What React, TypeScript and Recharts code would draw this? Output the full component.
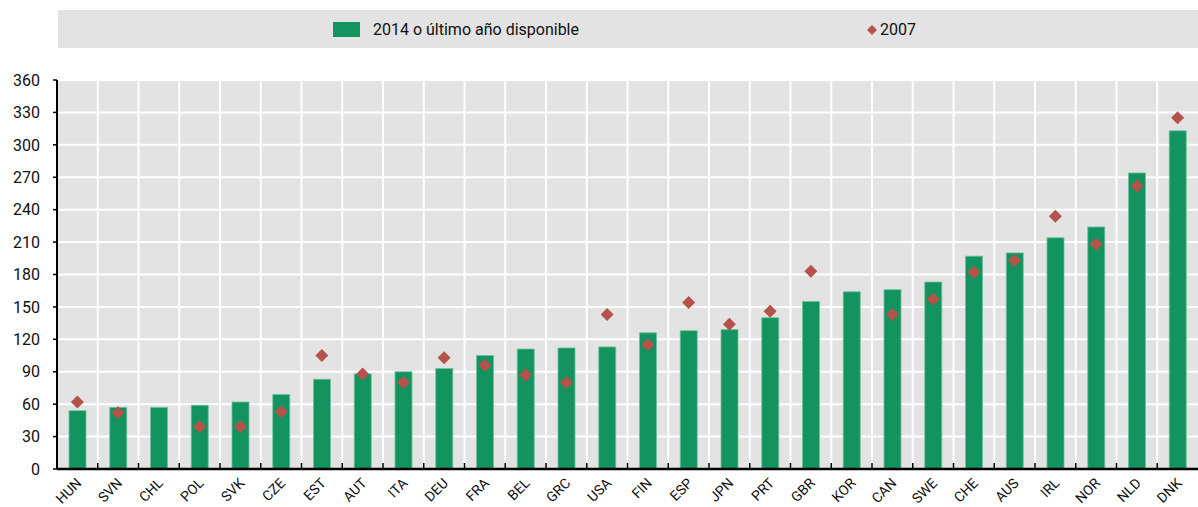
import { ComposedChart, Bar, Scatter, XAxis, YAxis, CartesianGrid } from 'recharts'

const COUNTRIES = ['HUN', 'SVN', 'CHL', 'POL', 'SVK', 'CZE', 'EST', 'AUT', 'ITA', 'DEU', 'FRA', 'BEL', 'GRC', 'USA',
  'FIN', 'ESP', 'JPN', 'PRT', 'GBR', 'KOR', 'CAN', 'SWE', 'CHE', 'AUS', 'IRL', 'NOR', 'NLD', 'DNK']
const LATEST = [54, 57, 57, 59, 62, 69, 83, 88, 90, 93, 105, 111, 112, 113,
  126, 128, 129, 140, 155, 164, 166, 173, 197, 200, 214, 224, 274, 313]
const Y2007 = [62, 52, null, 39, 39, 53, 105, 88, 80, 103, 96, 87, 80, 143,
  115, 154, 134, 146, 183, null, 143, 157, 182, 193, 234, 208, 262, 325]
const Y_TICKS = [0, 30, 60, 90, 120, 150, 180, 210, 240, 270, 300, 330, 360]

const SERIES_LATEST = '2014 o último año disponible'
const SERIES_2007 = '2007'

const GREEN = '#12935f'
const RED = '#b5534b'
const BG = '#e2e3e2'
const FONT = "Roboto, 'Liberation Sans', sans-serif"

const data = COUNTRIES.map((c, i) => ({ country: c, latest: LATEST[i], y2007: Y2007[i] }))

function Diamond(props: any) {
  const { cx, cy } = props
  if (cx == null || cy == null || props.payload?.y2007 == null) return null
  const r = 6.5
  return <polygon points={`${cx},${cy - r} ${cx + r},${cy} ${cx},${cy + r} ${cx - r},${cy}`} fill={RED} />
}

function CountryTick(props: any) {
  const { x, y, payload } = props
  const half = payload.offset || 20.4
  const ex = x + 5
  const ey = y + 15
  return (
    <g>
      <line x1={x - half} x2={x - half} y1={y - 6} y2={y} stroke="#000" strokeWidth={1.5} />
      <g transform={`rotate(-45, ${ex}, ${ey})`}>
        <text x={ex} y={ey} textAnchor="end" fontSize={14} fontFamily={FONT} fill="#111">
          {payload.value}
        </text>
      </g>
    </g>
  )
}

function LegendBox() {
  return (
    <div style={{
      position: 'absolute', left: 58, top: 10, width: 1140, height: 38, background: BG,
      fontFamily: FONT, fontSize: 16, color: '#111',
    }}>
      <span style={{ position: 'absolute', left: 275, top: 12, width: 27, height: 15, background: GREEN }} />
      <span style={{ position: 'absolute', left: 315, top: 10 }}>{SERIES_LATEST}</span>
      <svg style={{ position: 'absolute', left: 808, top: 14 }} width={12} height={12}>
        <polygon points="6,1 11,6 6,11 1,6" fill={RED} />
      </svg>
      <span style={{ position: 'absolute', left: 822, top: 10 }}>{SERIES_2007}</span>
    </div>
  )
}

export default function App() {
  return (
    <div style={{ position: 'absolute', left: 0, top: 0, width: 1198, height: 507, background: '#fff' }}>
      <ComposedChart
        width={1198}
        height={507}
        data={data}
        margin={{ top: 80, right: 0, left: 0, bottom: 0 }}
      >
        <CartesianGrid
          fill={BG}
          stroke="#fff"
          strokeWidth={2}
          verticalCoordinatesGenerator={({ offset }: any) =>
            COUNTRIES.map((_, i) => offset.left + (i * offset.width) / COUNTRIES.length).slice(1)}
        />
        <XAxis
          dataKey="country"
          height={38}
          interval={0}
          tickLine={false}
          tickSize={0}
          tickMargin={0}
          axisLine={{ stroke: '#000', strokeWidth: 2.5 }}
          tick={(p: any) => <CountryTick {...p} />}
        />
        <YAxis
          width={57}
          domain={[0, 360]}
          ticks={Y_TICKS}
          interval={0}
          tickSize={4}
          tickMargin={13}
          tickLine={{ stroke: '#000', strokeWidth: 1.5 }}
          axisLine={{ stroke: '#000', strokeWidth: 2 }}
          tick={{ fill: '#111', fontSize: 16, fontFamily: FONT }}
        />
        <Bar
          dataKey="latest"
          name={SERIES_LATEST}
          fill={GREEN}
          stroke="#6cc09a"
          strokeWidth={0.8}
          barSize={17}
          isAnimationActive={false}
        />
        <Scatter
          dataKey="y2007"
          name={SERIES_2007}
          shape={(p: any) => <Diamond {...p} />}
          isAnimationActive={false}
        />
      </ComposedChart>
      <LegendBox />
    </div>
  )
}
